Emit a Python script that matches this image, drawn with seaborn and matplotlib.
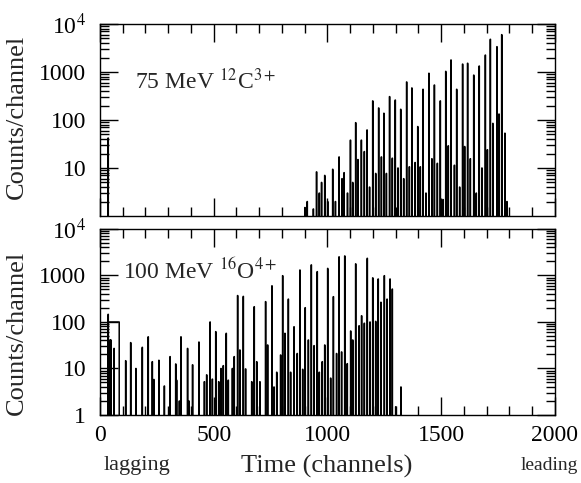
import numpy as np
import pandas as pd
import matplotlib
matplotlib.use("Agg")
import matplotlib.pyplot as plt
import seaborn as sns
from matplotlib.ticker import LogLocator, NullFormatter, MultipleLocator, FixedLocator, FixedFormatter

# ---- data (peak channel, counts) ----
top_ch = [36, 901, 911, 938, 952, 964, 974, 988, 1001, 1023, 1035, 1051, 1064, 1073, 1088,
          1101, 1111, 1124, 1134, 1149, 1162, 1174, 1185, 1199, 1212, 1225, 1237, 1248, 1259,
          1273, 1285, 1298, 1310, 1322, 1335, 1348, 1360, 1371, 1385, 1397, 1408, 1420, 1433,
          1446, 1459, 1470, 1483, 1496, 1508, 1520, 1531, 1543, 1558, 1568, 1581, 1594, 1603,
          1616, 1628, 1643, 1654, 1667, 1679, 1694, 1703, 1716, 1727, 1745, 1754, 1766, 1780,
          1789]
top_counts = [42, 1.5, 2, 1.4, 8.3, 3, 5, 7, 2, 9.4, 2, 17, 6, 8, 3,
              38, 5, 88, 15, 38, 22, 62, 4, 250, 7.7, 178, 17, 138, 7.7,
              307, 16, 260, 10, 167, 6, 620, 10.6, 465, 13, 73, 10.6, 436, 3,
              940, 15.6, 535, 12.5, 250, 2.2, 1030, 29, 1780, 11.4, 436, 4, 1460, 28,
              1520, 15.6, 860, 3, 1330, 10, 2250, 24, 4800, 85, 3370, 133, 6000, 53,
              2]

bot_ch = [36, 44, 48, 62, 113, 135, 158, 186, 212, 230, 237, 259, 283, 308, 333, 337, 349,
          356, 385, 391, 407, 435, 459, 469, 484, 494, 509, 522, 532, 542, 555, 564, 582,
          590, 605, 615, 630, 640, 667, 678, 689, 703, 728, 737, 756, 765, 777, 794, 803,
          813, 828, 838, 853, 867, 879, 891, 902, 916, 929, 941, 955, 964, 977, 988, 1001,
          1014, 1026, 1040, 1051, 1062, 1076, 1087, 1102, 1111, 1124, 1139, 1150, 1162,
          1175, 1187, 1199, 1212, 1223, 1235, 1250, 1262, 1275, 1285, 1300, 1323]
bot_counts = [146, 41, 41, 27, 14.7, 36, 10, 28.5, 48, 14, 5.8, 15, 4.2, 18, 12.5, 5.6, 2,
              48, 27, 2, 12, 37, 5.2, 7.3, 100, 5.9, 62, 5.2, 10, 11.5, 57, 5.6, 10,
              18, 370, 25, 355, 9.8, 5.2, 213, 14, 5.2, 274, 32, 600, 4, 8.3, 19.5, 990,
              57, 310, 8.3, 79, 21, 1310, 9.6, 203, 41, 1690, 31, 1210, 8.3, 14, 32, 1420,
              6.2, 350, 21, 2520, 22.7, 2630, 12.7, 64, 41, 1780, 83, 136, 94,
              2340, 100, 890, 103, 840, 265, 990, 310, 840, 510, 1.5, 4]

# flat shoulder seen at the start of the lower spectrum
bot_plateau_ch = [37, 84]
bot_plateau_level = 100

top_yticks = [10, 100, 1000, 1e4]
top_yticklabels = ["10", "100", "1000", r"10$^4$"]
bot_yticks = [1, 10, 100, 1000, 1e4]
bot_yticklabels = ["1", "10", "100", "1000", r"10$^4$"]

n_channels = 2048
empty_level = 0.5  # below the axis floor of 1 count
channel = np.arange(n_channels)


def spectrum(ch, counts):
    y = np.full(n_channels, empty_level)
    y[ch] = counts
    return pd.DataFrame({"channel": channel, "counts": y})


top_df = spectrum(top_ch, top_counts)
bot_df = spectrum(bot_ch, bot_counts)
plat = np.full(n_channels, empty_level)
plat[bot_plateau_ch[0]:bot_plateau_ch[1] + 1] = bot_plateau_level
plat_df = pd.DataFrame({"channel": channel, "counts": plat})

sns.set_style("ticks")
plt.rcParams["font.family"] = ["Liberation Serif", "DejaVu Serif"]
plt.rcParams["mathtext.fontset"] = "stix"
plt.rcParams.update({
    "xtick.direction": "in", "ytick.direction": "in",
    "xtick.top": True, "ytick.right": True,
    "xtick.major.size": 13, "ytick.major.size": 13,
    "xtick.minor.size": 6.5, "ytick.minor.size": 6.5,
    "xtick.color": "black", "ytick.color": "black",
})

fig = plt.figure(figsize=(5.81, 4.83), dpi=100)
ax1 = fig.add_axes([0.1721, 0.5528, 0.7831, 0.3975])
ax2 = fig.add_axes([0.1721, 0.1408, 0.7831, 0.3851])

sns.lineplot(data=top_df, x="channel", y="counts", ax=ax1, color="black", lw=1.1,
             drawstyle="steps-mid", estimator=None)
sns.lineplot(data=bot_df, x="channel", y="counts", ax=ax2, color="black", lw=1.1,
             drawstyle="steps-mid", estimator=None)
sns.lineplot(data=plat_df, x="channel", y="counts", ax=ax2, color="black", lw=1.1,
             drawstyle="steps-mid", estimator=None)

for ax, yt, ytl in ((ax1, top_yticks, top_yticklabels), (ax2, bot_yticks, bot_yticklabels)):
    ax.set_yscale("log")
    ax.set_ylim(1, 1e4)
    ax.set_xlim(0, 2000)
    ax.xaxis.set_major_locator(MultipleLocator(500))
    ax.xaxis.set_minor_locator(MultipleLocator(100))
    ax.yaxis.set_major_locator(FixedLocator(yt))
    ax.yaxis.set_major_formatter(FixedFormatter(ytl))
    ax.yaxis.set_minor_locator(LogLocator(base=10, subs=np.arange(2, 10), numticks=20))
    ax.yaxis.set_minor_formatter(NullFormatter())
    for s in ax.spines.values():
        s.set_linewidth(1.0)
        s.set_color("black")
    ax.set_ylabel("Counts/channel", fontsize=19)

ax1.xaxis.label.set_visible(False)
ax2.xaxis.label.set_visible(False)
ax1.yaxis.set_label_coords(-0.158, 0.518)
ax2.yaxis.set_label_coords(-0.158, 0.44)

ax1.text(0.077, 0.661, r"75 MeV $^{12}$C$^{3+}$", transform=ax1.transAxes,
         fontsize=17, va="baseline", ha="left")
ax2.text(0.051, 0.731, r"100 MeV $^{16}$O$^{4+}$", transform=ax2.transAxes,
         fontsize=17, va="baseline", ha="left")

ax2.text(0.499, -0.274, "Time (channels)", transform=ax2.transAxes, fontsize=19,
         ha="center", va="center")
ax2.text(0.081, -0.274, "lagging", transform=ax2.transAxes, fontsize=16,
         ha="center", va="center")
ax2.text(1.0505, -0.274, "leading", transform=ax2.transAxes, fontsize=14,
         ha="right", va="center")

# tick styling last
for ax in (ax1, ax2):
    ax.set_axisbelow(False)
    ax.tick_params(which="both", direction="in", top=True, right=True, width=1.0,
                   colors="black")
    ax.tick_params(which="major", length=13)
    ax.tick_params(which="minor", length=6.5)
    ax.tick_params(axis="y", which="major", pad=10, labelsize=17)
    ax.tick_params(axis="x", which="major", pad=7, labelsize=17)
ax1.tick_params(axis="x", labelbottom=False)

fig.savefig("out.png", dpi=100)
